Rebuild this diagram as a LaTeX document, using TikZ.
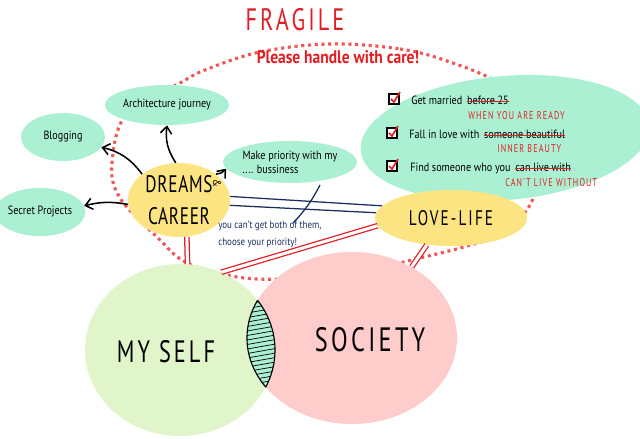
\documentclass[tikz,border=0pt]{standalone}
\usepackage{fontspec}
\setmainfont{PT Sans}[FakeStretch=0.85]
\newfontfamily\capsfont{PT Sans}[FakeStretch=0.72, LetterSpace=10]
\usetikzlibrary{shapes.geometric, arrows.meta, positioning}
\definecolor{mintgreen}{RGB}{172,240,212}
\definecolor{sunyellow}{RGB}{252,228,130}
\definecolor{selfgreen}{RGB}{224,245,202}
\definecolor{societypink}{RGB}{255,204,204}
\definecolor{fragred}{RGB}{226,30,36}
\definecolor{dotred}{RGB}{240,88,88}
\definecolor{inknavy}{RGB}{25,45,95}

\begin{document}
\begin{tikzpicture}[
    x=0.025cm, y=-0.025cm,
    blob/.style={ellipse, fill=mintgreen, inner sep=0pt, align=center,
                 font=\fontsize{8.5}{10}\selectfont},
    sun/.style={ellipse, fill=sunyellow, inner sep=0pt, align=center},
    circlearea/.style={ellipse, inner sep=0pt, minimum height=4.3cm},
    bigcaps/.style={font=\capsfont\fontsize{22}{24}\selectfont},
    sketch/.style={-{Straight Barb[length=5pt, width=8pt]}, line width=1.1pt},
    tie/.style={draw=fragred, double=white, double distance=2.2pt, line width=0.9pt},
    ink/.style={draw=inknavy, line width=0.9pt},
    chkbox/.style={draw, fill=white, line width=0.9pt, minimum size=0.25cm, inner sep=0pt},
    listtxt/.style={inner sep=0pt, anchor=base west, font=\fontsize{8.5}{10}\selectfont},
    fixtxt/.style={inner sep=0pt, anchor=base west, text=fragred,
                   font=\capsfont\fontsize{8}{10}\selectfont},
    note/.style={inner sep=0pt, anchor=base west, text=inknavy,
                 font=\fontsize{7.5}{9}\selectfont},
  ]
    \useasboundingbox (0,0) rectangle (640,439);

    % fragile frame
    \draw[dotred, line width=2.2pt, dash pattern=on 2.2pt off 2.6pt]
      plot[smooth cycle, tension=0.6] coordinates {(330,44) (400,49) (450,62) (500,84)
        (530,118) (541,160) (530,205) (500,234) (467,246) (420,258) (350,274) (287,279)
        (237,277) (187,263) (157,237) (120,198) (112,163) (127,113) (180,83) (205,70) (260,52)};
    \node[text=fragred, font=\capsfont\fontsize{22}{24}\selectfont] (fragile) at (295,20) {FRAGILE};
    \node[text=fragred, font=\bfseries\fontsize{13}{15}\selectfont] (care) at (338,57) {Please handle with care!};

    % checklist
    \fill[mintgreen, rotate around={5:(505,138)}] (505,138) ellipse [x radius=3.62cm, y radius=1.55cm];
    \foreach \n/\x/\y in {c1/394/99, c2/392/133, c3/392/166} {
      \node[chkbox] (\n) at (\x,\y) {};
      \draw[fragred, line width=1.2pt] (\n.center) ++(-3,0) -- ++(3,3) -- ++(6,-10);
    }
    \node[listtxt] (g1) at (411,105) {Get married};
    \node[listtxt] (g1s) at ([xshift=3pt]g1.base east) {before 25};
    \node[fixtxt] (g1f) at (468,120) {WHEN YOU ARE READY};
    \node[listtxt] (g2) at (409,139) {Fall in love with};
    \node[listtxt] (g2s) at ([xshift=3pt]g2.base east) {someone beautiful};
    \node[fixtxt] (g2f) at (497,153) {INNER BEAUTY};
    \node[listtxt] (g3) at (410,172) {Find someone who you};
    \node[listtxt] (g3s) at ([xshift=3pt]g3.base east) {can live with};
    \node[fixtxt] (g3f) at (505,187) {CAN'T LIVE WITHOUT};
    \foreach \s in {g1s, g2s, g3s}
      \draw[fragred, line width=0.8pt] (\s.mid west) -- (\s.mid east);

    % dreams and its branches
    \node[blob, minimum width=2.3cm, minimum height=1.0cm] (arch) at (167,105) {Architecture journey};
    \node[blob, minimum width=2.1cm, minimum height=1.2cm] (blog) at (63,137) {Blogging};
    \node[blob, minimum width=2.1cm, minimum height=1.2cm] (secret) at (40,212) {Secret Projects};
    \node[blob, minimum width=3.1cm, minimum height=1.05cm, align=left] (prio) at (290,162)
      {Make priority with my\\.... bussiness};
    \node[sun, minimum width=2.55cm, minimum height=1.85cm,
          font=\capsfont\addfontfeature{LetterSpace=3}\fontsize{17}{23}\selectfont] (dreams) at (179,200) {DREAMS\\CAREER};
    \node[rotate=-90, inner sep=0pt, font=\footnotesize] (amp) at (217,183) {\&};
    \node[sun, minimum width=3.8cm, minimum height=1.4cm,
          font=\capsfont\fontsize{15}{18}\selectfont] (love) at (451,218) {LOVE-LIFE};

    \draw[sketch] (dreams.95) to[bend left=20] (arch.south);
    \draw[sketch] (dreams.145) to[bend right=20] (blog.-15);
    \draw[sketch] (dreams.185) to[bend right=12] (secret.8);
    \draw[sketch] (dreams.35) to[bend right=22] (prio.186);

    % either or
    \draw[ink] (dreams.4) -- (love.170);
    \draw[ink] (dreams.-6) -- (love.176);
    \coordinate (slashtop) at (320,185);
    \coordinate (slashbot) at (293,223);
    \draw[ink] (slashtop) to[bend left=8] (slashbot);
    \node[note] (both) at (218,229) {you can't get both of them,};
    \node[note] (choose) at (218,246) {choose your priority!};

    % self and society
    \node[circlearea, fill=selfgreen, minimum width=4.75cm] (myself) at (180,350) {};
    \node[circlearea, fill=societypink, minimum width=5.25cm] (society) at (352,338) {};
    \begin{scope}
      \clip (180,350) ellipse [x radius=2.375cm, y radius=2.15cm];
      \fill[mintgreen] (352,338) ellipse [x radius=2.625cm, y radius=2.15cm];
      \begin{scope}
        \clip (352,338) ellipse [x radius=2.625cm, y radius=2.15cm];
        \foreach \k in {0,...,36}
          \draw[line width=0.5pt] (230,280+4.5*\k) -- (310,266+4.5*\k);
      \end{scope}
      \draw[line width=0.8pt] (352,338) ellipse [x radius=2.625cm, y radius=2.15cm];
    \end{scope}
    \begin{scope}
      \clip (352,338) ellipse [x radius=2.625cm, y radius=2.15cm];
      \draw[line width=0.8pt] (180,350) ellipse [x radius=2.375cm, y radius=2.15cm];
    \end{scope}
    \node[bigcaps] (selflbl) at (166,352) {MY SELF};
    \node[bigcaps, font=\capsfont\fontsize{24}{26}\selectfont] (soclbl) at (370,340) {SOCIETY};

    \draw[tie] (dreams.-78) -- (myself.85);
    \draw[tie] (love.186) -- (myself.62);
    \draw[tie] (love.228) -- (society.50);
\end{tikzpicture}
\end{document}
